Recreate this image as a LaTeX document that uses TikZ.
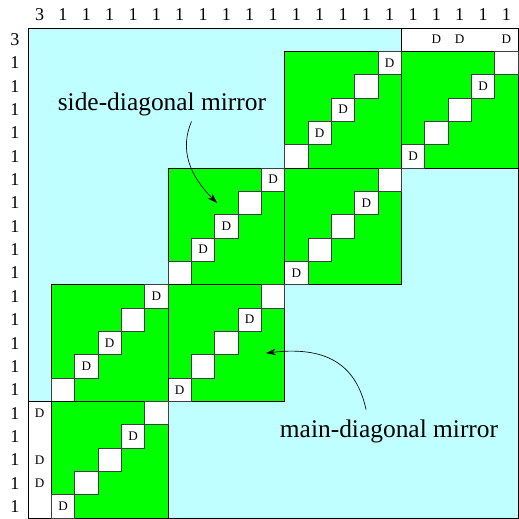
\documentclass[tikz,border=0pt]{standalone}
\usepackage{fontspec}
\setmainfont{Liberation Serif}
\usetikzlibrary{arrows.meta}
\definecolor{bgcyan}{RGB}{192,255,255}
\definecolor{blockgreen}{RGB}{0,255,0}

\begin{document}
\begin{tikzpicture}[x=5mm, y=-5mm,
  frame/.style={draw=black, line width=0.6pt, fill=bgcyan},
  strip/.style={draw=black, line width=0.5pt, fill=white},
  block/.style={draw=black, line width=0.6pt, fill=blockgreen},
  cellbox/.style={draw=black!75, line width=0.5pt, fill=white, minimum size=5mm,
                  inner sep=0pt, font=\fontsize{8}{9}\selectfont},
  dmark/.style={inner sep=0pt, font=\fontsize{8}{9}\selectfont},
  count/.style={inner sep=0pt, font=\fontsize{11}{13}\selectfont},
  remark/.style={font=\fontsize{15.5}{18}\selectfont},
  mirror/.style={thin, -{Stealth[length=6pt, width=4pt]}}
]
  \useasboundingbox (-1.2,-1.2) rectangle (21,21.04);
  \draw[frame] (0,0) rectangle (21,21);
  % white strips
  \draw[strip] (16,0) rectangle (21,1);
  \draw[strip] (0,16) rectangle (1,21);
  \foreach \c in {17,18,20}
    \node[dmark] (top-\c) at (\c+0.5,0.5) {D};
  \foreach \r in {16,18,19}
    \node[dmark] (left-\r) at (0.5,\r+0.5) {D};
  % green blocks with their white staircase
  \foreach \i/\j/\marks in {3/0/{1,0,0,1,0}, 2/0/{0,1,1,0,1}, 2/1/{1,0,0,1,0},
                            1/1/{0,1,1,0,1}, 1/2/{1,0,0,1,0}, 0/2/{0,1,1,0,1},
                            0/3/{1,0,0,1,0}} {
    \draw[block] (1+5*\i,1+5*\j) rectangle +(5,5);
    \foreach \m [count=\k from 0] in \marks
      \node[cellbox] (c\i\j-\k) at (1.5+5*\i+\k, 5.5+5*\j-\k) {\ifnum\m=1 D\fi};
  }
  % counts
  \foreach \n in {0,...,20} {
    \pgfmathtruncatemacro\v{\n==0 ? 3 : 1}
    \node[count] (col\n) at (\n+0.5,-0.56) {\v};
    \node[count] (row\n) at (-0.56,\n+0.5) {\v};
  }
  \node[remark] (side) at (5.74,3.26) {side-diagonal mirror};
  \node[remark] (main) at (15.47,17.27) {main-diagonal mirror};
  \coordinate (sidetip) at (8.1,7.5);
  \coordinate (maintip) at (10.2,13.93);
  \draw[mirror] ([xshift=18pt]side.south) .. controls (6.5,5.2) and (6.9,6.3) .. (sidetip);
  \draw[mirror] ([xshift=-14pt,yshift=2.5pt]main.north) .. controls (14.1,14.6) and (13.0,13.6) .. (maintip);
\end{tikzpicture}
\end{document}
